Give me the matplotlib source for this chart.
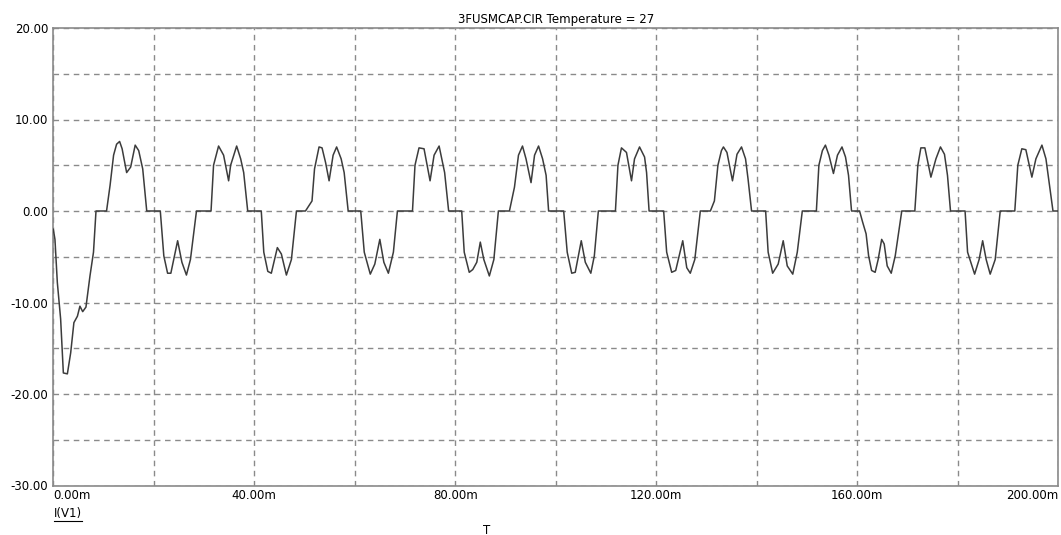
import matplotlib
matplotlib.use("Agg")
import matplotlib.pyplot as plt
from matplotlib.lines import Line2D

# Data (time in ms, current in A)
time_ms = [0, 0.33, 0.8, 1.46, 2.0, 2.8, 3.46, 4.1, 4.8, 5.3, 5.85, 6.5, 7.3, 8.0, 8.5,
           10.6, 11.3, 12.0, 12.6, 13.2, 13.7, 14.6, 15.4, 16.3, 17.0, 17.8, 18.6,
           21.3, 22.0, 22.75, 23.4, 24.75, 25.6, 26.5, 27.3, 28.5,
           31.4, 31.9, 32.9, 33.9, 34.9, 35.3, 36.5, 37.3, 37.9, 38.7,
           41.4, 41.9, 42.7, 43.4, 44.6, 45.4, 46.4, 47.4, 48.4,
           50.2, 51.5, 52.0, 52.9, 53.5, 54.2, 54.9, 55.7, 56.4, 57.3, 57.9, 58.7,
           61.2, 61.9, 63.1, 64.0, 65.0, 65.8, 66.7, 67.7, 68.5,
           71.5, 72.0, 72.8, 73.8, 75.0, 75.8, 76.8, 77.9, 78.7,
           81.3, 81.8, 82.8, 83.5, 84.3, 85.0, 85.7, 86.8, 87.7, 88.6,
           90.8, 91.8, 92.6, 93.4, 94.1, 95.1, 95.8, 96.6, 97.4, 98.1, 98.6,
           101.6, 102.3, 103.2, 103.9, 105.1, 105.9, 107.0, 107.7, 108.5,
           111.9, 112.4, 113.1, 114.1, 115.1, 115.7, 116.7, 117.7, 118.1, 118.6,
           121.5, 122.1, 123.1, 123.9, 125.3, 126.1, 126.8, 127.7, 128.8,
           130.8, 131.6, 132.3, 133.0, 133.4, 134.1, 135.2, 136.1, 137.0, 137.8, 138.3, 139.0,
           141.8, 142.3, 143.2, 144.3, 145.3, 146.1, 147.2, 148.1, 149.1,
           151.9, 152.4, 153.1, 153.7, 154.4, 155.3, 156.1, 157.0, 157.7, 158.3, 158.9,
           160.5, 161.1, 161.8, 162.3, 162.9, 163.6, 164.2, 164.9, 165.4, 166.0, 166.8, 167.6, 168.9,
           171.5, 172.1, 172.7, 173.5, 174.7, 175.7, 176.6, 177.4, 178.0, 178.6,
           181.5, 182.0, 183.4, 184.3, 185.0, 185.7, 186.5, 187.5, 188.5,
           191.4, 192.0, 192.8, 193.6, 194.8, 195.6, 196.8, 197.6, 198.5, 199.0, 200.0]
current = [-2.0, -3.1, -7.8, -11.8, -17.7, -17.8, -15.5, -12.2, -11.5, -10.4, -11.0, -10.5, -7.1, -4.5, 0,
           0, 2.8, 6.1, 7.3, 7.6, 6.8, 4.2, 4.8, 7.2, 6.6, 4.6, 0,
           0, -4.9, -6.8, -6.8, -3.25, -5.6, -7.0, -5.3, 0,
           0, 5.0, 7.1, 6.1, 3.3, 5.0, 7.1, 5.7, 4.2, 0,
           0, -4.5, -6.6, -6.8, -4.0, -4.7, -7.0, -5.3, 0,
           0, 1.1, 4.6, 7.0, 6.9, 5.3, 3.3, 6.1, 7.0, 5.7, 4.2, 0,
           0, -4.5, -6.9, -5.8, -3.1, -5.6, -6.8, -4.5, 0,
           0, 5.0, 6.9, 6.8, 3.3, 6.1, 7.1, 4.2, 0,
           0, -4.5, -6.7, -6.4, -5.6, -3.4, -5.3, -7.1, -5.3, 0,
           0, 2.6, 6.1, 7.1, 5.7, 3.1, 6.1, 7.1, 5.7, 3.9, 0,
           0, -4.5, -6.8, -6.7, -3.25, -5.6, -6.8, -4.9, 0,
           0, 5.0, 6.9, 6.4, 3.3, 5.7, 7.0, 5.9, 4.2, 0,
           0, -4.5, -6.7, -6.5, -3.25, -6.2, -6.8, -5.3, 0,
           0, 1.1, 5.0, 6.6, 7.0, 6.4, 3.3, 6.2, 7.0, 5.7, 3.5, 0,
           0, -4.5, -6.8, -5.8, -3.25, -6.0, -6.9, -4.5, 0,
           0, 5.0, 6.6, 7.2, 6.1, 4.1, 6.1, 7.0, 5.9, 3.9, 0,
           0, -1.2, -2.5, -4.9, -6.5, -6.7, -5.3, -3.1, -3.6, -6.0, -6.8, -4.9, 0,
           0, 5.0, 6.9, 6.9, 3.7, 5.7, 7.0, 6.2, 3.9, 0,
           0, -4.5, -6.9, -5.3, -3.25, -5.3, -6.9, -5.3, 0,
           0, 5.0, 6.8, 6.7, 3.7, 5.7, 7.2, 5.7, 2.0, 0, 0]

x_ticks = [0, 20, 40, 60, 80, 100, 120, 140, 160, 180, 200]
x_labels = ["0.00m", "", "40.00m", "", "80.00m", "", "120.00m", "", "160.00m", "", "200.00m"]
y_ticks = [-30, -20, -10, 0, 10, 20]
y_labels = ["-30.00", "-20.00", "-10.00", "0.00", "10.00", "20.00"]
y_grid = [-25, -15, -5, 5, 15]

title = "3FUSMCAP.CIR Temperature = 27"
trace_name = "I(V1)"
x_name = "T"

W, H = 1061, 535
fig = plt.figure(figsize=(W / 100, H / 100), dpi=100)
fs = 8.5
plt.rcParams['font.family'] = ['DejaVu Sans']

left, right, top, bottom = 53.3, 1058, 28, 485.5
ax = fig.add_axes([left / W, 1 - bottom / H, (right - left) / W, (bottom - top) / H])

grid_kw = dict(color="#8a8a8a", linewidth=1.0, linestyle=(0, (4, 3.3)))
ax.plot(time_ms, current, color="#3c3c3c", linewidth=1.1, zorder=3)

ax.set_xlim(0, 200)
ax.set_ylim(-30, 20)
ax.set_xticks(x_ticks)
ax.set_xticklabels(x_labels, fontsize=fs)
ax.set_yticks(y_ticks)
ax.set_yticklabels(y_labels, fontsize=fs)
ax.set_yticks(y_grid, minor=True)
ax.tick_params(axis="both", which="both", length=0)
ax.tick_params(axis="x", pad=2.5)
ax.tick_params(axis="y", pad=3.5)
ax.grid(True, which="both", axis="both", **grid_kw)
ax.set_axisbelow(True)

labels = ax.get_xticklabels()
labels[0].set_horizontalalignment("left")
labels[-1].set_horizontalalignment("right")

for s in ax.spines.values():
    s.set_color("#8a8a8a")
    s.set_linewidth(1.2)

fig.text((left + right) / 2 / W, 1 - 19.5 / H, title, ha="center", va="center", fontsize=fs)

t = fig.text(54 / W, 1 - 513 / H, trace_name, ha="left", va="center", fontsize=fs)
fig.canvas.draw()
bb = t.get_window_extent()
fig.add_artist(Line2D([bb.x0 / W, bb.x1 / W], [(bb.y0 - 1) / H, (bb.y0 - 1) / H],
                      color="black", linewidth=0.8, transform=fig.transFigure))

fig.text(487 / W, 1 - 530 / H, x_name, ha="center", va="center", fontsize=fs)

fig.savefig("out.png", dpi=100)
